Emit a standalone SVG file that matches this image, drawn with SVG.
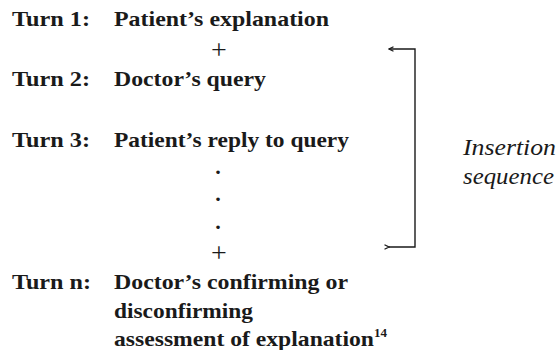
<svg xmlns="http://www.w3.org/2000/svg" width="558" height="350" viewBox="0 0 558 350">
<style>
text{font-family:"Liberation Serif","Times New Roman",serif;fill:#1a1a1a}
.b{font-weight:bold;font-size:21px}
.p{font-size:28px}
.d{font-weight:bold;font-size:22px}
.i{font-style:italic;font-size:23px}
.s{font-weight:bold;font-size:13px}
</style>
<defs>
<marker id="ah" viewBox="0 0 8 8" refX="1" refY="4" markerWidth="6" markerHeight="6" orient="auto" markerUnits="userSpaceOnUse">
<path d="M7,1 L1,4 L7,7" fill="none" stroke="#1a1a1a" stroke-width="1.6"/>
</marker>
</defs>
<rect width="558" height="350" fill="#fff"/>
<g id="turn1"><text class="b" x="12" y="26" textLength="78" lengthAdjust="spacingAndGlyphs">Turn 1:</text><text class="b" x="114" y="26" textLength="215" lengthAdjust="spacingAndGlyphs">Patient’s explanation</text></g>
<g id="plus1"><text class="p" x="219" y="59" text-anchor="middle">+</text></g>
<g id="turn2"><text class="b" x="12" y="86" textLength="78" lengthAdjust="spacingAndGlyphs">Turn 2:</text><text class="b" x="114" y="86" textLength="152" lengthAdjust="spacingAndGlyphs">Doctor’s query</text></g>
<g id="turn3"><text class="b" x="12" y="147" textLength="78" lengthAdjust="spacingAndGlyphs">Turn 3:</text><text class="b" x="114" y="147" textLength="235" lengthAdjust="spacingAndGlyphs">Patient’s reply to query</text></g>
<g id="dots"><text class="d" x="218" y="174" text-anchor="middle">.</text><text class="d" x="218" y="201" text-anchor="middle">.</text><text class="d" x="218" y="229" text-anchor="middle">.</text></g>
<g id="plus2"><text class="p" x="219" y="262" text-anchor="middle">+</text></g>
<g id="turnn"><text class="b" x="12" y="289" textLength="79" lengthAdjust="spacingAndGlyphs">Turn n:</text><text class="b" x="114" y="289" textLength="234" lengthAdjust="spacingAndGlyphs">Doctor’s confirming or</text><text class="b" x="114" y="318" textLength="139" lengthAdjust="spacingAndGlyphs">disconfirming</text><text class="b" x="114" y="346"><tspan textLength="260" lengthAdjust="spacingAndGlyphs">assessment of explanation</tspan><tspan class="s" dy="-9">14</tspan></text></g>
<g id="connectors"><path d="M389,49 H415 V247 H389" fill="none" stroke="#1a1a1a" stroke-width="1.4" marker-start="url(#ah)" marker-end="url(#ah)"/></g>
<g id="label"><text class="i" x="463" y="155" textLength="93" lengthAdjust="spacingAndGlyphs">Insertion</text><text class="i" x="463" y="184" textLength="91" lengthAdjust="spacingAndGlyphs">sequence</text></g>
</svg>
